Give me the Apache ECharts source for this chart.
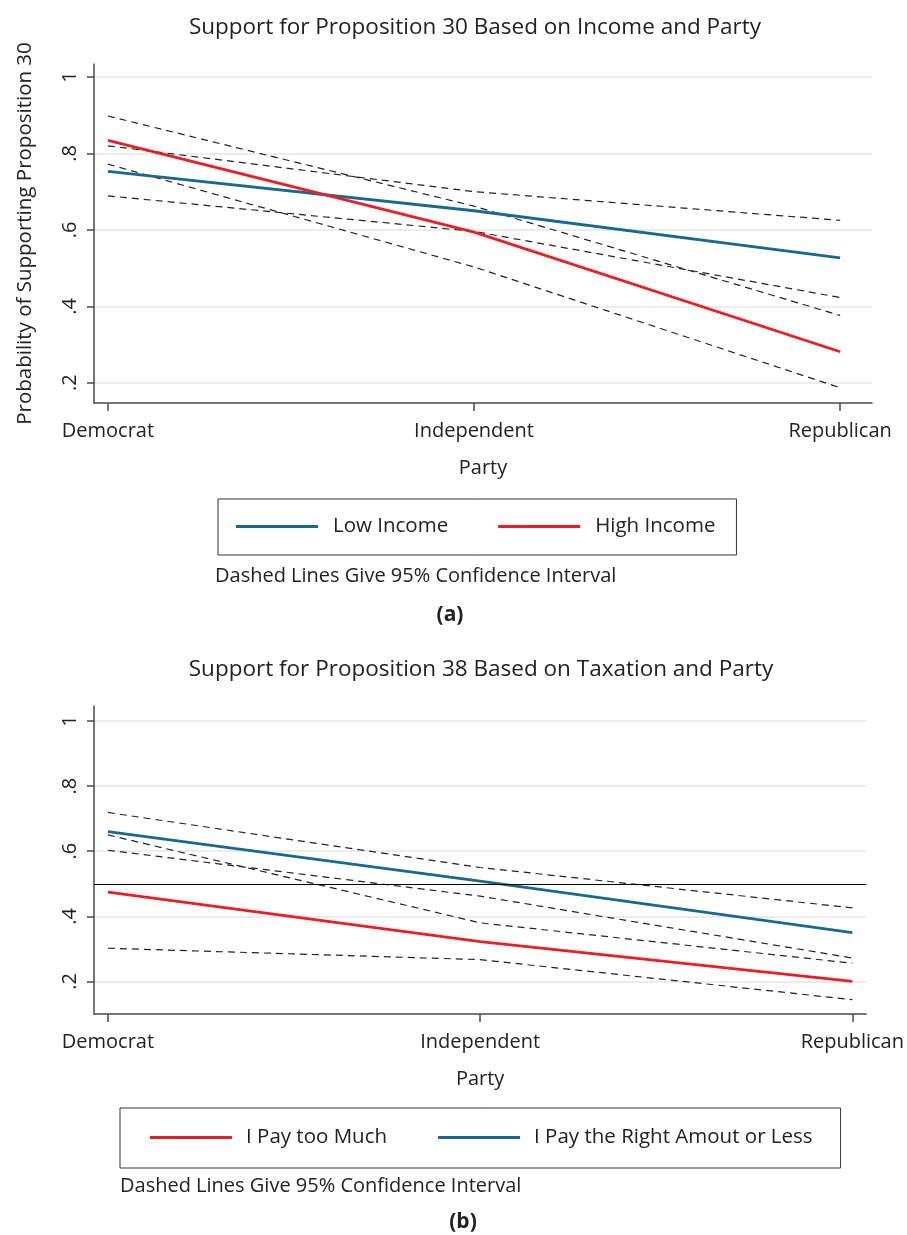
<!DOCTYPE html>
<html><head><meta charset="utf-8">
<script src="https://cdn.jsdelivr.net/npm/echarts@6/dist/echarts.min.js"></script>
<style>html,body{margin:0;padding:0;background:#fff}#c{width:907px;height:1235px}</style>
</head><body><div id="c"></div>
<script>
// ---- data ----
const categories = ['Democrat', 'Independent', 'Republican'];
const partyPos = [1, 2, 3];
const yTicks = [0.2, 0.4, 0.6, 0.8, 1];

// Chart (a): Proposition 30
const lowIncome       = [0.753, 0.650, 0.527];
const lowIncomeUpper  = [0.820, 0.700, 0.625];
const lowIncomeLower  = [0.689, 0.596, 0.423];
const highIncome      = [0.834, 0.594, 0.281];
const highIncomeUpper = [0.898, 0.662, 0.376];
const highIncomeLower = [0.772, 0.503, 0.187];

// Chart (b): Proposition 38
const payTooMuch      = [0.474, 0.322, 0.200];
const payTooMuchUpper = [0.650, 0.380, 0.256];
const payTooMuchLower = [0.302, 0.267, 0.144];
const payRight        = [0.660, 0.508, 0.350];
const payRightUpper   = [0.719, 0.550, 0.426];
const payRightLower   = [0.603, 0.462, 0.272];
const threshold = 0.5;

// ---- styles ----
const FONT = 'Open Sans';
const BLUE = '#17698f';
const RED = '#ee1c25';
const TXT = '#222';
const AX = '#4a4a4a';

const zip = arr => partyPos.map((x, i) => [x, arr[i]]);

function xAxisCfg(grid, min, max) {
  return {
    gridIndex: grid, type: 'value', min: min, max: max,
    axisLine: { show: true, onZero: false, lineStyle: { color: AX, width: 1.5 } },
    axisTick: { show: true, customValues: partyPos, length: 8, lineStyle: { color: AX, width: 1.5 } },
    axisLabel: { customValues: partyPos, formatter: v => categories[partyPos.indexOf(v)],
      fontSize: 20, fontFamily: FONT, color: TXT, margin: 18 },
    splitLine: { show: false },
    name: 'Party', nameLocation: 'middle', nameGap: 55,
    nameTextStyle: { fontSize: 20, fontFamily: FONT, color: TXT }
  };
}
function yAxisCfg(grid, min, max, name) {
  return {
    gridIndex: grid, type: 'value', min: min, max: max,
    axisLine: { show: true, onZero: false, lineStyle: { color: AX, width: 1.5 } },
    axisTick: { show: true, customValues: yTicks, length: 7, lineStyle: { color: AX, width: 1.5 } },
    axisLabel: { customValues: yTicks, rotate: 90, margin: 14,
      formatter: v => (v === 1 ? '1' : String(v).replace(/^0/, '')),
      fontSize: 20, fontFamily: FONT, color: TXT },
    splitLine: { show: true, customValues: yTicks, lineStyle: { color: '#e6e6e6', width: 1.5 } },
    name: name, nameLocation: 'middle', nameGap: 58,
    nameTextStyle: { fontSize: 20.5, fontFamily: FONT, color: TXT }
  };
}
function solid(name, arr, color, xi, extra) {
  return Object.assign({
    name: name, type: 'line', xAxisIndex: xi, yAxisIndex: xi, data: zip(arr),
    symbol: 'none', color: color, z: 3, silent: true,
    lineStyle: { color: color, width: 2.8 }
  }, extra || {});
}
function dashed(arr, xi) {
  return {
    name: 'CI', type: 'line', xAxisIndex: xi, yAxisIndex: xi, data: zip(arr),
    symbol: 'none', color: '#222', z: 2, silent: true,
    lineStyle: { color: '#222', width: 1.2, type: [7, 5] }
  };
}

const option = {
  animation: false,
  backgroundColor: '#fff',
  grid: [
    { left: 94, top: 64, right: 35, height: 339 },
    { left: 94, top: 706, right: 38, height: 308 }
  ],
  xAxis: [ xAxisCfg(0, 0.962, 3.087), xAxisCfg(1, 0.9625, 3.0375) ],
  yAxis: [
    yAxisCfg(0, 0.147, 1.034, 'Probability of Supporting Proposition 30'),
    yAxisCfg(1, 0.1, 1.046, '')
  ],
  legend: [
    { left: 218, top: 499, data: ['Low Income', 'High Income'], icon: 'rect',
      itemWidth: 82, itemHeight: 3, itemGap: 50, padding: [17, 21, 18, 18],
      borderColor: '#333', borderWidth: 1, selectedMode: false,
      textStyle: { fontSize: 20.5, fontFamily: FONT, color: TXT, padding: [0, 0, 0, 10] } },
    { left: 120, top: 1108, data: ['I Pay too Much', 'I Pay the Right Amout or Less'], icon: 'rect',
      itemWidth: 82, itemHeight: 3, itemGap: 51, padding: [19, 28, 20, 30],
      borderColor: '#333', borderWidth: 1, selectedMode: false,
      textStyle: { fontSize: 20.5, fontFamily: FONT, color: TXT, padding: [0, 0, 0, 9] } }
  ],
  graphic: [
    { type: 'text', x: 475, y: 28, style: { text: 'Support for Proposition 30 Based on Income and Party',
      textAlign: 'center', textVerticalAlign: 'middle', font: '22.5px "Open Sans"', fill: TXT } },
    { type: 'text', x: 215, y: 576, style: { text: 'Dashed Lines Give 95% Confidence Interval',
      textAlign: 'left', textVerticalAlign: 'middle', font: '20px "Open Sans"', fill: TXT } },
    { type: 'text', x: 450, y: 615, style: { text: '(a)',
      textAlign: 'center', textVerticalAlign: 'middle', font: 'bold 21px "Open Sans"', fill: TXT } },
    { type: 'text', x: 481, y: 670, style: { text: 'Support for Proposition 38 Based on Taxation and Party',
      textAlign: 'center', textVerticalAlign: 'middle', font: '22.5px "Open Sans"', fill: TXT } },
    { type: 'text', x: 120, y: 1186, style: { text: 'Dashed Lines Give 95% Confidence Interval',
      textAlign: 'left', textVerticalAlign: 'middle', font: '20px "Open Sans"', fill: TXT } },
    { type: 'text', x: 463, y: 1222, style: { text: '(b)',
      textAlign: 'center', textVerticalAlign: 'middle', font: 'bold 21px "Open Sans"', fill: TXT } }
  ],
  series: [
    dashed(lowIncomeUpper, 0), dashed(lowIncomeLower, 0),
    dashed(highIncomeUpper, 0), dashed(highIncomeLower, 0),
    solid('Low Income', lowIncome, BLUE, 0),
    solid('High Income', highIncome, RED, 0),
    dashed(payTooMuchUpper, 1), dashed(payTooMuchLower, 1),
    dashed(payRightUpper, 1), dashed(payRightLower, 1),
    solid('I Pay too Much', payTooMuch, RED, 1),
    solid('I Pay the Right Amout or Less', payRight, BLUE, 1, {
      markLine: { silent: true, symbol: 'none', label: { show: false },
        lineStyle: { color: '#000', width: 1.2, type: 'solid' },
        data: [{ yAxis: threshold }] }
    })
  ]
};
echarts.init(document.getElementById('c')).setOption(option);
</script></body></html>
